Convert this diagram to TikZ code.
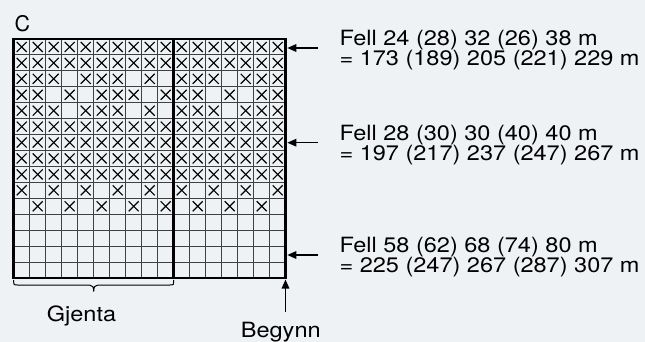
\documentclass[tikz,border=0pt]{standalone}
\usepackage{fontspec}
\usepackage{graphicx}
\setmainfont{TeX Gyre Heros}
\usetikzlibrary{arrows.meta}
\definecolor{bgcol}{HTML}{EFF2F5}
\tikzset{
  gridline/.style={draw=black!75, line width=0.95},
  thickline/.style={draw=black, line width=2.8},
  xmark/.style={draw=black, line width=1.15},
  lab/.style={font=\fontsize{21}{21}\selectfont, inner sep=0, anchor=base west},
  pointer/.style={draw=black, line width=1.6, -{Triangle[length=9,width=7.5]}},
}
\newcommand{\wide}[1]{\scalebox{1.12}[1]{#1}}
\newcommand{\xrow}[2]{%
  \foreach \c in {#2} {
    \draw[xmark] ({13.7+(\c-0.5)*16-5},{39+(#1-0.5)*15.93-5}) -- ({13.7+(\c-0.5)*16+5},{39+(#1-0.5)*15.93+5});
    \draw[xmark] ({13.7+(\c-0.5)*16-5},{39+(#1-0.5)*15.93+5}) -- ({13.7+(\c-0.5)*16+5},{39+(#1-0.5)*15.93-5});
  }}
\begin{document}
\begin{tikzpicture}[x=1pt,y=-1pt]
\fill[bgcol] (0,0) rectangle (645,342);
\useasboundingbox (0,0) rectangle (645,342);
\def\xo{13.7}\def\yo{39}\def\cw{16}\def\rh{15.93}
% thin grid
\foreach \i in {1,...,16} \draw[gridline] ({\xo+\i*\cw},\yo) -- ({\xo+\i*\cw},{\yo+15*\rh});
\foreach \j in {1,...,14} \draw[gridline] (\xo,{\yo+\j*\rh}) -- ({\xo+17*\cw},{\yo+\j*\rh});
% crosses
\xrow{1}{1,...,17}
\xrow{2}{1,...,17}
\xrow{3}{1,2,3,5,6,7,9,11,12,13,15,16,17}
\xrow{4}{1,2,4,6,7,8,10,11,12,14,16,17}
\xrow{5}{1,2,3,5,6,7,9,11,12,13,15,16,17}
\xrow{6}{1,...,17}
\xrow{7}{1,...,17}
\xrow{8}{1,...,17}
\xrow{9}{1,...,17}
\xrow{10}{1,3,5,7,9,11,13,15,17}
\xrow{11}{2,4,6,8,10,12,14,16}
% thick frame and divider
\draw[thickline] (\xo,\yo) rectangle ({\xo+17*\cw},{\yo+15*\rh});
\draw[thickline] ({\xo+10*\cw},\yo) -- ({\xo+10*\cw},{\yo+15*\rh});
% labels
\node[font=\fontsize{21.5}{21.5}\selectfont, inner sep=0, anchor=base west] (c) at (14.5,31.7) {C};
% arrows and texts
\coordinate (t1) at (287.3,48);
\coordinate (s1) at (318,48);
\coordinate (t2) at (287.3,142.7);
\coordinate (s2) at (318,142.7);
\coordinate (t3) at (287.3,255);
\coordinate (s3) at (318,255);
\draw[pointer] (s1) -- (t1);
\draw[pointer] (s2) -- (t2);
\draw[pointer] (s3) -- (t3);
\node[lab] (a1) at (339.3,45.5) {\wide{Fell 24 (28) 32 (26) 38 m}};
\node[lab] (a2) at (339.3,65.5) {\wide{= 173 (189) 205 (221) 229 m}};
\node[lab] (b1) at (339.3,140.2) {\wide{Fell 28 (30) 30 (40) 40 m}};
\node[lab] (b2) at (339.3,160.2) {\wide{= 197 (217) 237 (247) 267 m}};
\node[lab] (d1) at (339.3,252.5) {\wide{Fell 58 (62) 68 (74) 80 m}};
\node[lab] (d2) at (339.3,272.5) {\wide{= 225 (247) 267 (287) 307 m}};
% brace
\draw[line width=1, black] (13.7,280) .. controls (13.7,285) .. (17.5,285) -- (89.5,285)
  .. controls (92.5,285) and (93.7,287) .. (93.7,291.5)
  .. controls (93.7,287) and (94.9,285) .. (97.9,285) -- (169.9,285)
  .. controls (173.7,285) .. (173.7,280);
\node[lab] (g) at (46.7,321.7) {\wide{Gjenta}};
% start arrow
\coordinate (bs) at (285.5,311.7);
\coordinate (bt) at (285.5,279.5);
\draw[pointer] (bs) -- (bt);
\node[lab] (bg) at (240.7,337.3) {\wide{Begynn}};
\end{tikzpicture}
\end{document}
